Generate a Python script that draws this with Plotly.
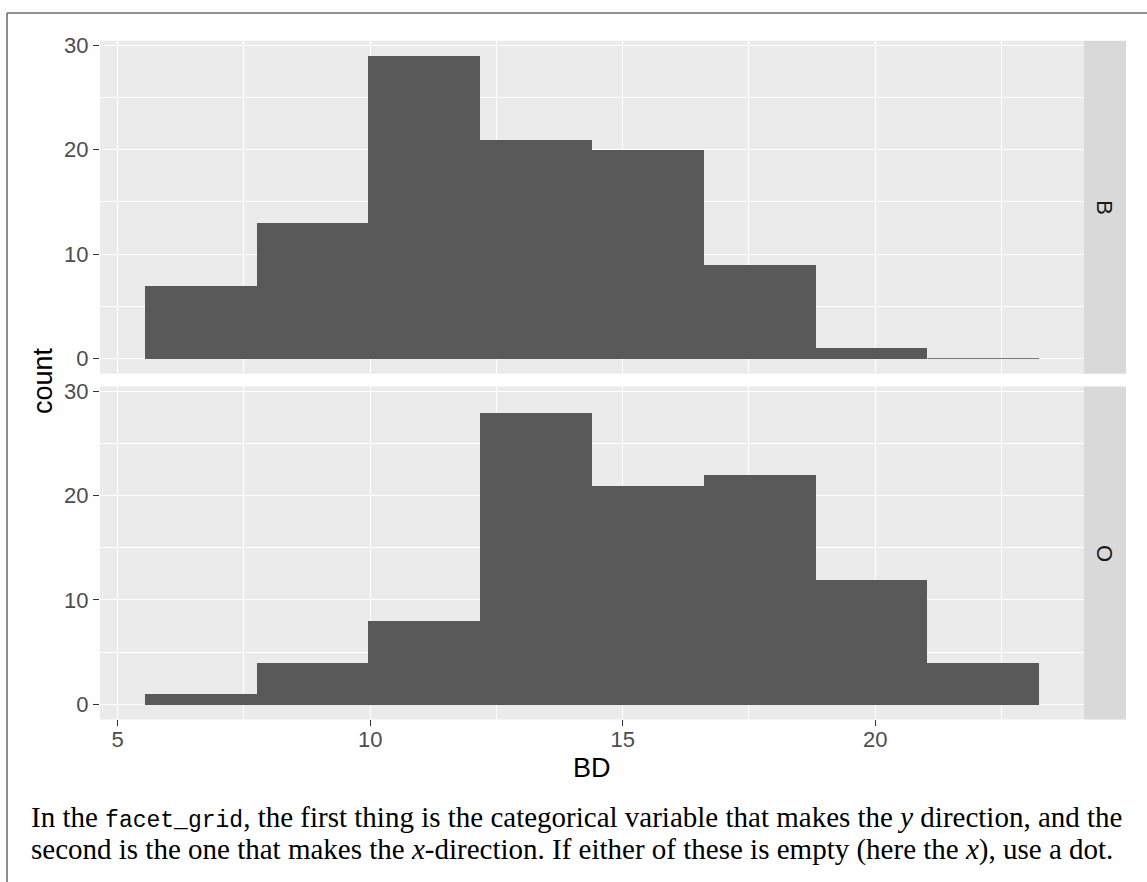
import plotly.graph_objects as go

# Histogram of body depth (BD), one row per species, 8 bins
bd_breaks = [5.5357, 7.7500, 9.9643, 12.1786, 14.3929, 16.6071, 18.8214, 21.0357, 23.2500]
species = ["B", "O"]
counts_B = [7, 13, 29, 21, 20, 9, 1, 0]
counts_O = [1, 4, 8, 28, 21, 22, 12, 4]
x_ticks = [5, 10, 15, 20]
y_ticks = [0, 10, 20, 30]

caption_line1 = ("In the <span style=\"font-family:'Liberation Mono';font-size:23px\">facet_grid</span>, "
                 "the first thing is the categorical variable that makes the <i>y</i> direction, and the")
caption_line2 = ("second is the one that makes the <i>x</i>-direction. If either of these is empty "
                 "(here the <i>x</i>), use a dot.")

W, H = 1147, 882
BAR = "#595959"
PANEL = "#EBEBEB"
STRIP = "#D9D9D9"

mids = [(a + b) / 2 for a, b in zip(bd_breaks[:-1], bd_breaks[1:])]
widths = [b - a for a, b in zip(bd_breaks[:-1], bd_breaks[1:])]

# pixel geometry of the two panels
px_left, px_right = 100, 1084
strip_right = 1126
panels_px = [(33, 369), (382, 718)]


def px_x(p):
    return p / W


def px_y(p):
    return 1 - p / H


span = bd_breaks[-1] - bd_breaks[0]
x_range = [bd_breaks[0] - 0.05 * span, bd_breaks[-1] + 0.05 * span]
ymax = max(max(counts_B), max(counts_O))
y_range = [-0.05 * ymax, ymax * 1.05]

fig = go.Figure()
series = [counts_B, counts_O]
for i, counts in enumerate(series):
    xa = "x" if i == 0 else "x2"
    ya = "y" if i == 0 else "y2"
    fig.add_trace(go.Bar(x=mids, y=counts, width=widths, marker=dict(color=BAR, line=dict(width=0)),
                         xaxis=xa, yaxis=ya, showlegend=False, hoverinfo="x+y"))
    # empty bins still leave a hairline at zero
    for k, c in enumerate(counts):
        if c == 0:
            fig.add_trace(go.Scatter(x=[bd_breaks[k], bd_breaks[k + 1]], y=[c, c], mode="lines",
                                     line=dict(color=BAR, width=1), opacity=0.8,
                                     xaxis=xa, yaxis=ya, showlegend=False, hoverinfo="skip"))

tick_font = dict(family="Liberation Sans, Arial, sans-serif", size=22, color="#4D4D4D")
common_x = dict(range=x_range, tickvals=x_ticks, showgrid=True, gridcolor="white", gridwidth=1.1,
                zeroline=False, showline=False,
                minor=dict(dtick=2.5, tick0=0, showgrid=True, gridcolor="white", gridwidth=0.55, ticks=""),
                domain=[px_x(px_left), px_x(px_right)], fixedrange=True)
common_y = dict(range=y_range, tickvals=y_ticks, showgrid=True, gridcolor="white", gridwidth=1.1,
                zeroline=False, showline=False, ticks="outside", ticklen=6, tickwidth=1.3,
                tickcolor="#333333", tickfont=tick_font,
                minor=dict(dtick=5, tick0=5, showgrid=True, gridcolor="white", gridwidth=0.55, ticks=""),
                fixedrange=True)

fig.update_layout(
    width=W, height=H,
    margin=dict(l=0, r=0, t=0, b=0),
    paper_bgcolor="white", plot_bgcolor=PANEL,
    bargap=0,
    xaxis=dict(common_x, anchor="y", showticklabels=False, ticks=""),
    yaxis=dict(common_y, anchor="x", domain=[px_y(panels_px[0][1]), px_y(panels_px[0][0])]),
    xaxis2=dict(common_x, anchor="y2", ticks="outside", ticklen=6, tickwidth=1.3, tickcolor="#333333",
                tickfont=tick_font, ticklabelstandoff=-6),
    yaxis2=dict(common_y, anchor="x2", domain=[px_y(panels_px[1][1]), px_y(panels_px[1][0])]),
)

shapes = []
annotations = []
for (top, bot), lab in zip(panels_px, species):
    shapes.append(dict(type="rect", xref="paper", yref="paper",
                       x0=px_x(px_right), x1=px_x(strip_right), y0=px_y(bot), y1=px_y(top),
                       fillcolor=STRIP, line=dict(width=0), layer="below"))
    annotations.append(dict(text=lab, xref="paper", yref="paper",
                            x=px_x((px_right + strip_right) / 2), y=px_y((top + bot) / 2),
                            showarrow=False, textangle=90, xanchor="center", yanchor="middle",
                            font=dict(family="Liberation Sans, Arial, sans-serif", size=22, color="#1A1A1A")))

# page frame lines
shapes.append(dict(type="line", xref="paper", yref="paper", x0=px_x(7), x1=1, y0=px_y(5), y1=px_y(5),
                   line=dict(color="#6E6E6E", width=1.6)))
shapes.append(dict(type="line", xref="paper", yref="paper", x0=px_x(7), x1=px_x(7), y0=0, y1=px_y(5),
                   line=dict(color="#6E6E6E", width=1.6)))

title_font = dict(family="Liberation Sans, Arial, sans-serif", size=27, color="black")
annotations.append(dict(text="BD", xref="paper", yref="paper", x=px_x((px_left + px_right) / 2), y=px_y(767),
                        showarrow=False, xanchor="center", yanchor="middle", font=title_font))
annotations.append(dict(text="count", xref="paper", yref="paper", x=px_x(43), y=px_y(375.5),
                        showarrow=False, textangle=-90, xanchor="center", yanchor="middle", font=title_font))

cap_font = dict(family="Liberation Serif, Times New Roman, serif", size=29, color="black")
annotations.append(dict(text=caption_line1, xref="paper", yref="paper", x=px_x(31), y=px_y(816.5),
                        showarrow=False, xanchor="left", yanchor="middle", font=cap_font,
                        borderpad=0, borderwidth=0))
annotations.append(dict(text=caption_line2, xref="paper", yref="paper", x=px_x(31), y=px_y(849.5),
                        showarrow=False, xanchor="left", yanchor="middle", font=cap_font,
                        borderpad=0, borderwidth=0))

fig.update_layout(shapes=shapes, annotations=annotations)
fig.write_html("out.html")
